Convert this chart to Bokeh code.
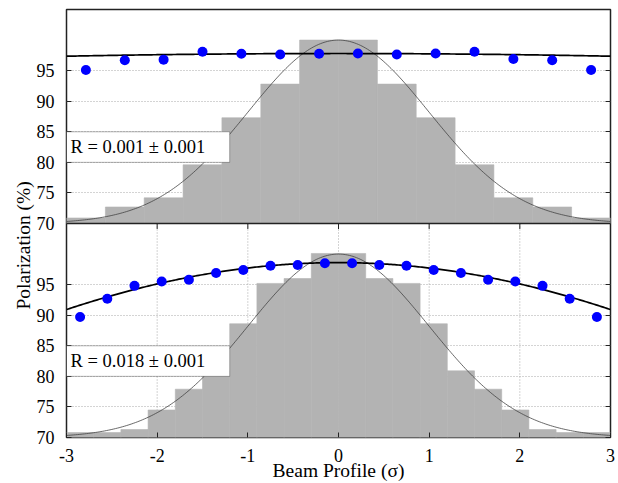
import numpy as np
from bokeh.plotting import figure
from bokeh.models import (Range1d, FixedTicker, CustomJSTickFormatter, Span,
                          BoxAnnotation, Label, Title, LinearAxis)
from bokeh.embed import file_html
from bokeh.resources import INLINE

# ---------------- data ----------------
x_ticks = [-3, -2, -1, 0, 1, 2, 3]
y_ticks = [70, 75, 80, 85, 90, 95]

# top panel: 14-bin beam profile, polarization points, fit
top_bin_edges = [-3.0, -2.571, -2.143, -1.714, -1.286, -0.857, -0.429, 0.0,
                 0.429, 0.857, 1.286, 1.714, 2.143, 2.571, 3.0]
top_hist = [70.9, 72.7, 74.2, 79.6, 87.3, 92.8, 100.0,
            100.0, 92.8, 87.3, 79.6, 74.2, 72.7, 70.9]
top_x = [-2.786, -2.357, -1.929, -1.5, -1.071, -0.643, -0.214,
         0.214, 0.643, 1.071, 1.5, 1.929, 2.357, 2.786]
top_pol = [95.1, 96.7, 96.8, 98.1, 97.75, 97.65, 97.75,
           97.8, 97.65, 97.8, 98.1, 96.9, 96.7, 95.1]
top_P0 = 97.8
top_R = 0.001
top_label = "R = 0.001 \u00b1 0.001"

# bottom panel: 20-bin beam profile, polarization points, fit
bot_bin_edges = [-3.0, -2.7, -2.4, -2.1, -1.8, -1.5, -1.2, -0.9, -0.6, -0.3, 0.0,
                 0.3, 0.6, 0.9, 1.2, 1.5, 1.8, 2.1, 2.4, 2.7, 3.0]
bot_hist = [70.8, 70.8, 71.3, 74.5, 77.9, 80.9, 88.6, 95.2, 96.0, 100.1,
            100.1, 96.0, 95.2, 88.6, 80.9, 77.9, 74.5, 71.3, 70.8, 70.8]
bot_x = [-2.85, -2.55, -2.25, -1.95, -1.65, -1.35, -1.05, -0.75, -0.45, -0.15,
         0.15, 0.45, 0.75, 1.05, 1.35, 1.65, 1.95, 2.25, 2.55, 2.85]
bot_pol = [89.7, 92.7, 94.8, 95.5, 95.8, 96.9, 97.4, 98.1, 98.2, 98.5,
           98.5, 98.2, 98.1, 97.4, 96.9, 95.8, 95.5, 94.8, 92.7, 89.7]
bot_P0 = 98.6
bot_R = 0.018
bot_label = "R = 0.018 \u00b1 0.001"

# gaussian beam profile overlay (base, amplitude, sigma)
prof_base = 70.0
prof_amp = 30.0
prof_sigma = 1.0

x_title = "Beam Profile (\u03c3)"
y_title = "Polarization (%)"

y_min, y_max = 70, 105
span = y_max - y_min

FONT = "Liberation Serif"
HIST = "#b3b3b3"
GRID = "#a8a8a8"
EDGE = "#222222"

# ---------------- figure ----------------
p = figure(width=618, height=483, output_backend="svg", toolbar_location=None,
           x_range=Range1d(-3, 3), y_range=Range1d(y_min - span, y_max),
           min_border_left=66, min_border_right=8, min_border_top=9,
           min_border_bottom=46)
p.extra_y_ranges = {"bot": Range1d(y_min, y_max + span)}
p.background_fill_color = "white"
p.border_fill_color = "white"
p.outline_line_color = EDGE
p.outline_line_width = 1.5

# axes
yt = FixedTicker(ticks=y_ticks + [t - span for t in y_ticks])
p.yaxis.ticker = yt
p.yaxis.formatter = CustomJSTickFormatter(
    args=dict(lim=y_min, off=span),
    code="return String(tick < lim ? tick + off : tick);")
p.xaxis.ticker = FixedTicker(ticks=x_ticks)
p.xaxis.formatter = CustomJSTickFormatter(code="return String(tick);")

right_axis = LinearAxis(ticker=yt, formatter=CustomJSTickFormatter(code="return '';"),
                        major_label_text_font_size="0px", major_label_standoff=0)
p.add_layout(right_axis, "right")

for ax in (p.xaxis, p.yaxis):
    ax.major_tick_in = 5
    ax.major_tick_out = 0
    ax.minor_tick_in = 0
    ax.minor_tick_out = 0
    ax.axis_line_color = None
    ax.major_tick_line_color = EDGE
for ax in (p.xaxis, p.yaxis[0]):
    ax.major_label_text_font = FONT
    ax.major_label_text_font_size = "18px"
    ax.major_label_text_color = "black"
p.yaxis[0].major_label_standoff = 12
p.xaxis.major_label_standoff = 11
p.xaxis.axis_label = x_title
p.xaxis.axis_label_text_font = FONT
p.xaxis.axis_label_text_font_size = "19.5px"
p.xaxis.axis_label_text_font_style = "normal"
p.xaxis.axis_label_text_color = "black"
p.xaxis.axis_label_standoff = -5

p.add_layout(Title(text=y_title, align="left", offset=128, standoff=0,
                   text_font=FONT, text_font_size="19.5px", text_font_style="normal",
                   text_color="black"), "left")

p.xgrid.visible = False
p.ygrid.ticker = yt
p.ygrid.grid_line_color = GRID
p.ygrid.grid_line_dash = "1 2"
p.ygrid.grid_line_width = 1

# vertical grid only in bottom panel
grid_x = x_ticks[1:-1]
p.segment(x0=grid_x, y0=[y_min] * len(grid_x), x1=grid_x, y1=[y_max] * len(grid_x),
          y_range_name="bot", line_color=GRID, line_dash="1 2", line_width=1)
p.segment(x0=grid_x, y0=[y_max] * len(grid_x), x1=grid_x, y1=[y_max - 0.9] * len(grid_x),
          y_range_name="bot", line_color=EDGE, line_width=1)

xs = np.linspace(-3, 3, 301)
prof = prof_base + prof_amp * np.exp(-xs ** 2 / (2 * prof_sigma ** 2))

# top panel
p.quad(left=top_bin_edges[:-1], right=top_bin_edges[1:], bottom=y_min, top=top_hist,
       fill_color=HIST, line_color=HIST, line_width=0.6)
p.line(xs, prof, line_color="#444444", line_width=0.8)
p.line(xs, top_P0 * np.exp(-top_R * xs ** 2 / 2), line_color="black", line_width=1.7)
p.scatter(top_x, top_pol, size=10, fill_color="#0000ff", line_color=None)

# bottom panel
p.quad(left=bot_bin_edges[:-1], right=bot_bin_edges[1:], bottom=y_min, top=bot_hist,
       fill_color=HIST, line_color=HIST, line_width=0.6, y_range_name="bot")
p.line(xs, prof, line_color="#444444", line_width=0.8, y_range_name="bot")
p.line(xs, bot_P0 * np.exp(-bot_R * xs ** 2 / 2), line_color="black", line_width=1.7,
       y_range_name="bot")
p.scatter(bot_x, bot_pol, size=10, fill_color="#0000ff", line_color=None,
          y_range_name="bot")

# separator between panels
p.add_layout(Span(location=y_min, dimension="width", line_color=EDGE, line_width=1.5))

# R boxes
for rng, txt in ((None, top_label), ("bot", bot_label)):
    kw = {} if rng is None else {"y_range_name": rng}
    p.add_layout(BoxAnnotation(left=-3, right=-1.2, bottom=80, top=85,
                               fill_color="white", fill_alpha=1.0,
                               line_color="black", line_width=1, **kw))
    p.add_layout(Label(x=-2.955, y=82.5, text=txt, text_font=FONT,
                       text_font_size="18.5px", text_color="black",
                       text_baseline="middle", text_align="left", **kw))

open("out.html", "w").write(file_html(p, INLINE))
